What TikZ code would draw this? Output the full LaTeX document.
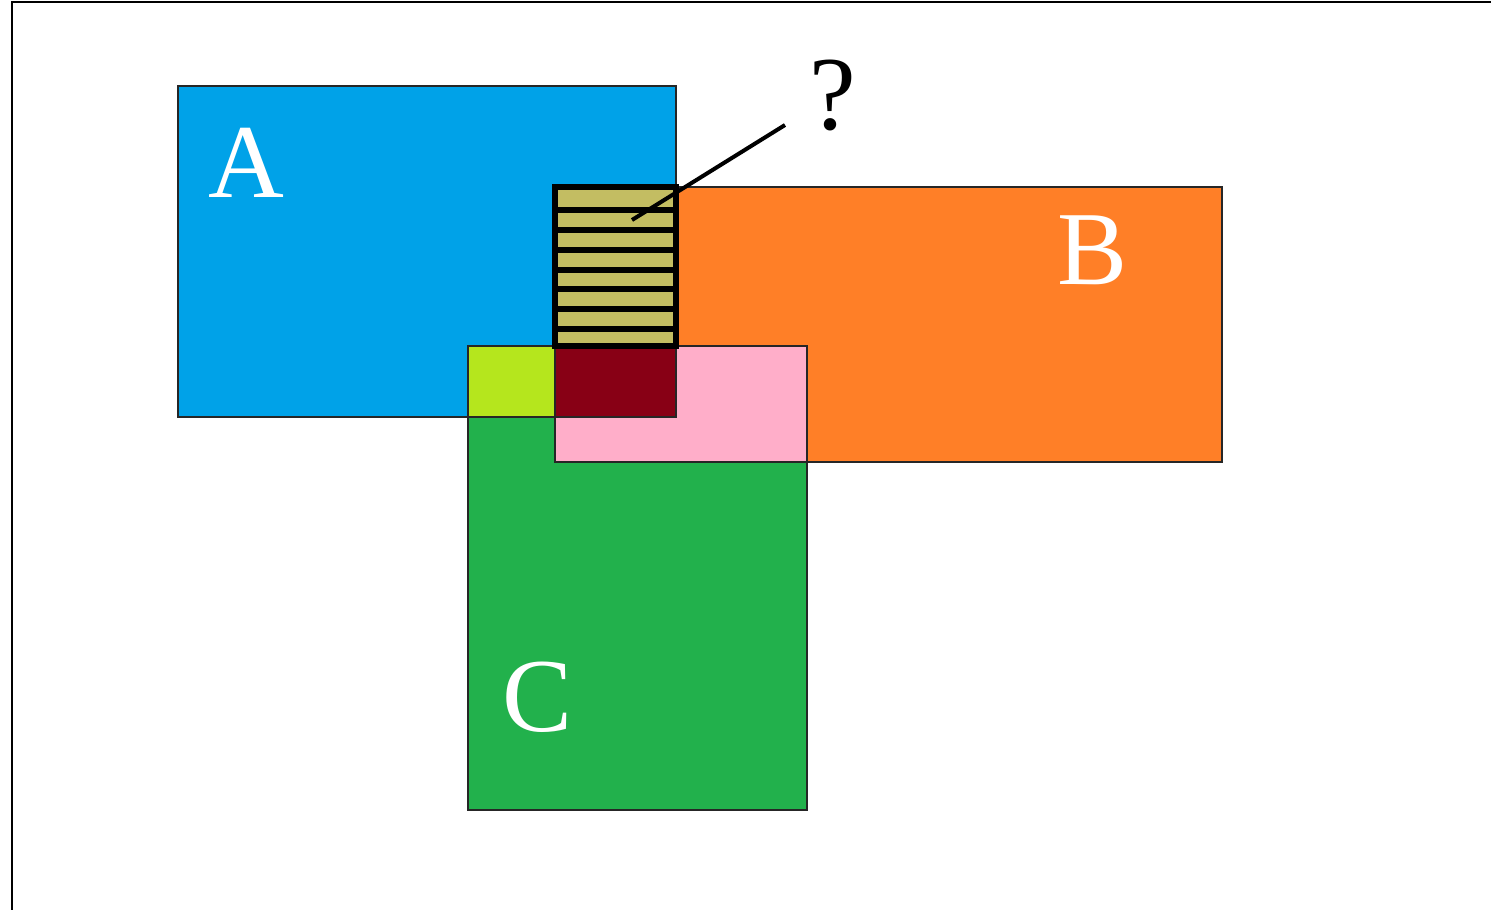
\documentclass[tikz,border=0pt]{standalone}
\usepackage{fontspec}
\setmainfont{Liberation Serif}
\definecolor{cA}{HTML}{00A2E8}
\definecolor{cB}{HTML}{FF7F27}
\definecolor{cC}{HTML}{22B14C}
\definecolor{cAC}{HTML}{B5E61D}
\definecolor{cABC}{HTML}{880015}
\definecolor{cBC}{HTML}{FFAEC9}
\definecolor{cAB}{HTML}{C3BD62}
\tikzset{
  outline/.style={draw=black!85, line width=1.5pt},
  lbl/.style={anchor=base, inner sep=0pt, font=\fontsize{105}{105}\selectfont},
  hatchline/.style={draw=black, line width=5.5pt},
}
\begin{document}
\begin{tikzpicture}[x=1pt,y=-1pt]
\useasboundingbox (0,0) rectangle (1491,910);
% frame
\draw[line width=2pt] (12,912) -- (12,2) -- (1495,2);
% fills
\fill[cA] (178,86) rectangle (676,417);
\fill[cB] (555,187) rectangle (1222,462);
\fill[cC] (468,346) rectangle (807,810);
\fill[cAC] (468,346) rectangle (555,417);
\fill[cBC] (555,346) rectangle (807,462);
\fill[cABC] (555,346) rectangle (676,417);
% outlines
\draw[outline] (178,86) rectangle (676,417);
\draw[outline] (555,187) rectangle (1222,462);
\draw[outline] (468,346) rectangle (807,810);
% hatched A∩B
\fill[cAB] (555,187) rectangle (676,346);
\foreach \yy in {210,230,250,270,289,309,329}
  \draw[hatchline] (555,\yy) -- (676,\yy);
\draw[line width=5.5pt] (555,187) rectangle (676,346);
% labels
\node[lbl, text=white] (la) at (246,197.5) {A};
\node[lbl, text=white] (lb) at (1093,284.5) {B};
\node[lbl, text=white] (lc) at (538,731) {C};
\node[lbl] (q) at (833,129) {?};
\coordinate (tip) at (632,220);
\coordinate (qend) at (785,125);
\draw[line width=4pt] (tip) -- (qend);
\end{tikzpicture}
\end{document}
